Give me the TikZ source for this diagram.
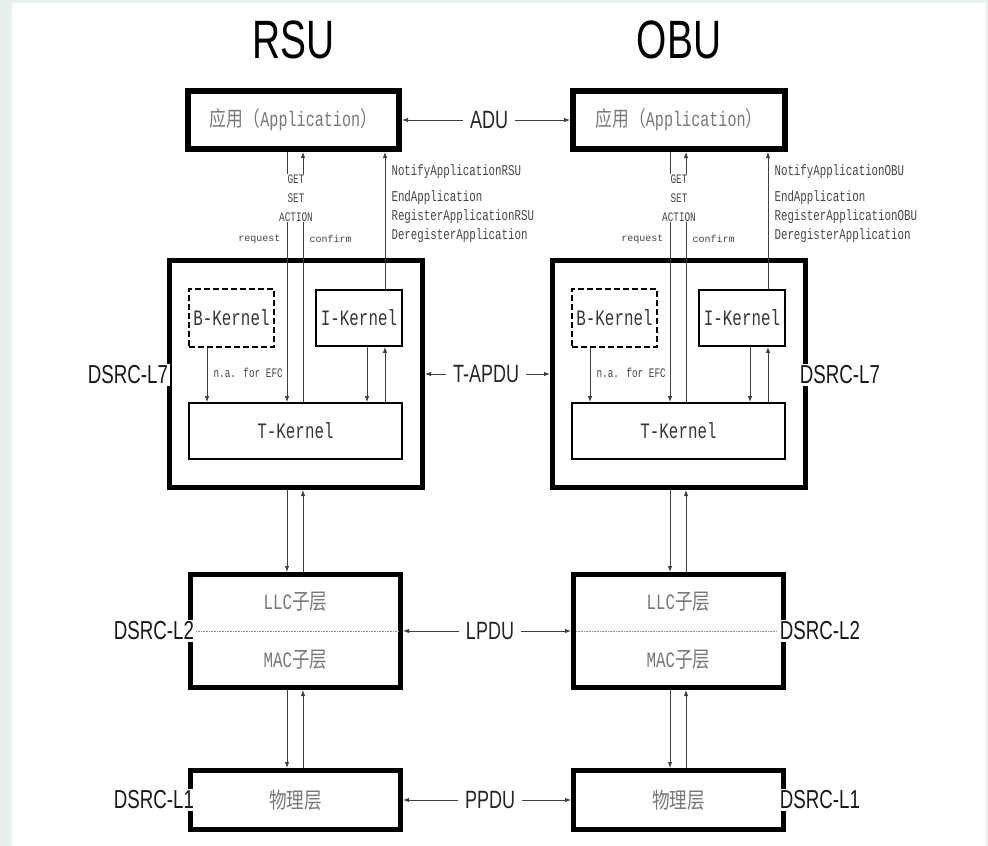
\documentclass[tikz,border=0pt]{standalone}
\usepackage{fontspec}
\usetikzlibrary{arrows.meta}
\setmainfont{Liberation Sans}
\newfontfamily\narrowsf{Liberation Sans}[FakeStretch=0.72]
\newfontfamily\narrowtt{Liberation Mono}[FakeStretch=0.72]
\newfontfamily\plaintt{Liberation Mono}
\newfontfamily\cjk{Noto Sans CJK SC}[FakeStretch=0.8]
\definecolor{bgframe}{RGB}{232,240,235}
\definecolor{apptext}{RGB}{120,120,120}
\definecolor{kerntext}{RGB}{55,55,55}
\definecolor{primtext}{RGB}{70,70,70}
\newcommand{\titlefont}{\narrowsf\fontsize{54}{60}\selectfont}
\newcommand{\sidefont}{\narrowsf\fontsize{26}{30}\selectfont}
\newcommand{\pdufont}{\narrowsf\fontsize{25}{30}\selectfont}
\newcommand{\kernfont}{\narrowtt\fontsize{22}{26}\selectfont}
\newcommand{\primfont}{\narrowtt\fontsize{13}{19}\selectfont}
\newcommand{\servfont}{\narrowtt\fontsize{15}{19}\selectfont}

\begin{document}
\begin{tikzpicture}[x=1pt,y=-1pt,
  stackbox/.style={draw=black, line width=5pt, inner sep=0pt, text=apptext},
  kernel/.style={draw=black, line width=1.8pt, inner sep=0pt, text=kerntext, font=\kernfont},
  arr/.style={-{Latex[length=6pt,width=4.5pt]}, line width=0.9pt, draw=black!75},
  sidelabel/.style={fill=white, inner sep=2pt, text=black!90, font=\sidefont},
  pdu/.style={inner sep=7pt, text=black!85, font=\pdufont},
  prim/.style={text=primtext, font=\primfont},
  midline/.style={densely dotted, line width=0.6pt, draw=black!45}]
    \useasboundingbox (0,0) rectangle (988,846);
    \fill[bgframe] (0,0) rectangle (988,846);
    \fill[white] (12,3) rectangle (986,846);
    %
    \node[font=\titlefont] (rsu) at (293.5,40) {RSU};
    \node[font=\titlefont] (obu) at (679,40) {OBU};
    %
    \node[stackbox, line width=6pt, minimum width=211pt, minimum height=58pt, font=\narrowtt\fontsize{21}{24}\selectfont] (appR) at (293.5,120) {{\cjk 应用（}Application{\cjk ）}};
    \node[stackbox, line width=6pt, minimum width=212pt, minimum height=58pt, font=\narrowtt\fontsize{21}{24}\selectfont] (appO) at (679,120) {{\cjk 应用（}Application{\cjk ）}};
    \node[stackbox, minimum width=253pt, minimum height=227pt] (l7R) at (296,374) {};
    \node[stackbox, minimum width=253pt, minimum height=227pt] (l7O) at (679,374) {};
    \node[kernel, dash pattern=on 6pt off 3pt, minimum width=85pt, minimum height=58pt] (bkR) at (231.5,318) {B-Kernel};
    \node[kernel, dash pattern=on 6pt off 3pt, minimum width=85pt, minimum height=58pt] (bkO) at (614.5,318) {B-Kernel};
    \node[kernel, minimum width=86pt, minimum height=56pt] (ikR) at (359,318) {I-Kernel};
    \node[kernel, minimum width=86pt, minimum height=56pt] (ikO) at (742,318) {I-Kernel};
    \node[kernel, minimum width=213pt, minimum height=56pt] (tkR) at (295.5,431) {T-Kernel};
    \node[kernel, minimum width=213pt, minimum height=56pt] (tkO) at (678.5,431) {T-Kernel};
    \node[stackbox, minimum width=210pt, minimum height=113pt] (l2R) at (295.5,631) {};
    \node[stackbox, minimum width=210pt, minimum height=113pt] (l2O) at (678.5,631) {};
    \node[stackbox, minimum width=210pt, minimum height=59pt, font=\cjk\fontsize{22}{26}\selectfont] (l1R) at (295.5,800) {物理层};
    \node[stackbox, minimum width=210pt, minimum height=59pt, font=\cjk\fontsize{22}{26}\selectfont] (l1O) at (678.5,800) {物理层};
    \node[text=apptext, font=\narrowtt\fontsize{22}{26}\selectfont] (llcR) at (295.5,602) {LLC{\cjk 子层}};
    \node[text=apptext, font=\narrowtt\fontsize{22}{26}\selectfont] (macR) at (295.5,660) {MAC{\cjk 子层}};
    \node[text=apptext, font=\narrowtt\fontsize{22}{26}\selectfont] (llcO) at (678.5,602) {LLC{\cjk 子层}};
    \node[text=apptext, font=\narrowtt\fontsize{22}{26}\selectfont] (macO) at (678.5,660) {MAC{\cjk 子层}};
    \draw[midline] ([xshift=5pt]l2R.west) -- ([xshift=-5pt]l2R.east);
    \draw[midline] ([xshift=5pt]l2O.west) -- ([xshift=-5pt]l2O.east);
    %
    \coordinate (bR) at (207,0);
    \coordinate (dnR) at (287,0);
    \coordinate (upR) at (303,0);
    \coordinate (idR) at (367,0);
    \coordinate (iuR) at (385,0);
    \coordinate (bO) at (590,0);
    \coordinate (dnO) at (670,0);
    \coordinate (upO) at (686,0);
    \coordinate (idO) at (750,0);
    \coordinate (iuO) at (768,0);
    %
    \draw[arr] (appR.south -| dnR) -- (tkR.north -| dnR);
    \draw[arr] (tkR.north -| upR) -- (appR.south -| upR);
    \draw[arr] (ikR.north -| iuR) -- (appR.south -| iuR);
    \draw[arr] (bkR.south -| bR) -- (tkR.north -| bR);
    \draw[arr] (ikR.south -| idR) -- (tkR.north -| idR);
    \draw[arr] (tkR.north -| iuR) -- (ikR.south -| iuR);
    \draw[arr] (l7R.south -| dnR) -- (l2R.north -| dnR);
    \draw[arr] (l2R.north -| upR) -- (l7R.south -| upR);
    \draw[arr] (l2R.south -| dnR) -- (l1R.north -| dnR);
    \draw[arr] (l1R.north -| upR) -- (l2R.south -| upR);
    %
    \draw[arr] (appO.south -| dnO) -- (tkO.north -| dnO);
    \draw[arr] (tkO.north -| upO) -- (appO.south -| upO);
    \draw[arr] (ikO.north -| iuO) -- (appO.south -| iuO);
    \draw[arr] (bkO.south -| bO) -- (tkO.north -| bO);
    \draw[arr] (ikO.south -| idO) -- (tkO.north -| idO);
    \draw[arr] (tkO.north -| iuO) -- (ikO.south -| iuO);
    \draw[arr] (l7O.south -| dnO) -- (l2O.north -| dnO);
    \draw[arr] (l2O.north -| upO) -- (l7O.south -| upO);
    \draw[arr] (l2O.south -| dnO) -- (l1O.north -| dnO);
    \draw[arr] (l1O.north -| upO) -- (l2O.south -| upO);
    %
    \node[prim, fill=white, align=center, inner xsep=1pt, inner ysep=1pt] (primR) at (296,198) {GET\\SET\\ACTION};
    \node[prim, fill=white, align=center, inner xsep=1pt, inner ysep=1pt] (primO) at (679,198) {GET\\SET\\ACTION};
    \node[prim, font=\plaintt\fontsize{10}{12}\selectfont, anchor=east] (reqR) at (284,239) {request};
    \node[prim, font=\plaintt\fontsize{10}{12}\selectfont, anchor=west] (cnfR) at (306,239) {confirm};
    \node[prim, font=\plaintt\fontsize{10}{12}\selectfont, anchor=east] (reqO) at (667,239) {request};
    \node[prim, font=\plaintt\fontsize{10}{12}\selectfont, anchor=west] (cnfO) at (689,239) {confirm};
    \node[prim, font=\servfont, anchor=west] (ntfR) at (388,172) {NotifyApplicationRSU};
    \node[prim, font=\servfont, anchor=west, align=left] (svcR) at (388,217) {EndApplication\\RegisterApplicationRSU\\DeregisterApplication};
    \node[prim, font=\servfont, anchor=west] (ntfO) at (771,172) {NotifyApplicationOBU};
    \node[prim, font=\servfont, anchor=west, align=left] (svcO) at (771,217) {EndApplication\\RegisterApplicationOBU\\DeregisterApplication};
    \node[prim, font=\narrowtt\fontsize{13}{15}\selectfont, anchor=west] (naR) at (210,373) {n.a. for EFC};
    \node[prim, font=\narrowtt\fontsize{13}{15}\selectfont, anchor=west] (naO) at (593,373) {n.a. for EFC};
    %
    \node[sidelabel] (l7labR) at (128,375) {DSRC-L7};
    \node[sidelabel] (l7labO) at (840,375) {DSRC-L7};
    \node[sidelabel] (l2labR) at (154,631) {DSRC-L2};
    \node[sidelabel] (l2labO) at (820,631) {DSRC-L2};
    \node[sidelabel] (l1labR) at (154,800) {DSRC-L1};
    \node[sidelabel] (l1labO) at (820,800) {DSRC-L1};
    %
    \node[pdu] (adu) at (489,120) {ADU};
    \node[pdu] (tapdu) at (486,374) {T-APDU};
    \node[pdu] (lpdu) at (490,631) {LPDU};
    \node[pdu] (ppdu) at (490,800) {PPDU};
    \draw[arr] (adu.west) -- (appR.east);
    \draw[arr] (adu.east) -- (appO.west);
    \draw[arr] (tapdu.west) -- (l7R.east);
    \draw[arr] (tapdu.east) -- (l7O.west);
    \draw[arr] (lpdu.west) -- (l2R.east);
    \draw[arr] (lpdu.east) -- (l2O.west);
    \draw[arr] (ppdu.west) -- (l1R.east);
    \draw[arr] (ppdu.east) -- (l1O.west);
\end{tikzpicture}
\end{document}
